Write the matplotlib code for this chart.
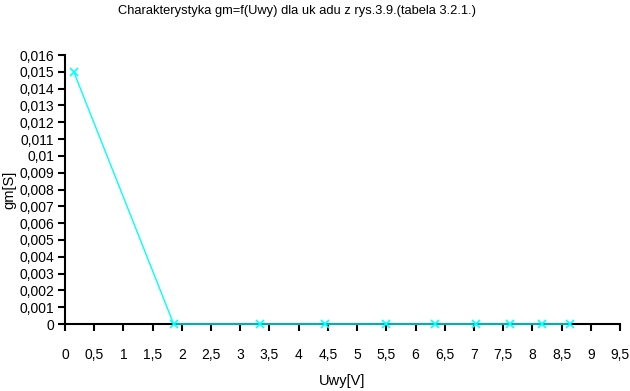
import matplotlib
matplotlib.use("Agg")
import matplotlib.pyplot as plt
from matplotlib.ticker import MultipleLocator, FuncFormatter

plt.rcParams['font.family'] = ['Liberation Sans Narrow', 'Liberation Sans', 'DejaVu Sans']

# data
uwy = [0.15, 1.86, 3.34, 4.45, 5.5, 6.34, 7.04, 7.62, 8.17, 8.65]
gm = [0.015, 0, 0, 0, 0, 0, 0, 0, 0, 0]

fig = plt.figure(figsize=(6.3, 3.91), dpi=100)
ax = fig.add_axes([65 / 630, 1 - 324 / 391, 555 / 630, 269 / 391])

ax.plot(uwy, gm, color='#00FFFF', lw=1, marker='x', ms=6, mew=1.2, clip_on=False, zorder=3)

ax.set_xlim(0, 9.5)
ax.set_ylim(0, 0.016)
ax.xaxis.set_major_locator(MultipleLocator(0.5))
ax.yaxis.set_major_locator(MultipleLocator(0.001))

# comma decimal separator
def comma(v, pos):
    s = ('%.3f' % v).rstrip('0').rstrip('.')
    return s.replace('.', ',')

ax.xaxis.set_major_formatter(FuncFormatter(comma))
ax.yaxis.set_major_formatter(FuncFormatter(comma))

for s in ['top', 'right']:
    ax.spines[s].set_visible(False)
for s in ['left', 'bottom']:
    ax.spines[s].set_linewidth(1.5)
ax.tick_params(axis='both', direction='out', length=5, width=1.5, labelsize=10)
ax.tick_params(axis='x', pad=12)
ax.tick_params(axis='y', pad=3)

fig.text(297 / 630, 1 - 11 / 391, 'Charakterystyka gm=f(Uwy) dla uk adu z rys.3.9.(tabela 3.2.1.)',
         ha='center', va='center', fontsize=9.3)
fig.text(342 / 630, 1 - 381 / 391, 'Uwy[V]', ha='center', va='center', fontsize=10.5)
fig.text(9 / 630, 1 - 190 / 391, 'gm[S]', ha='center', va='center', rotation=90, fontsize=10.5)

fig.savefig('out.png', dpi=100)
